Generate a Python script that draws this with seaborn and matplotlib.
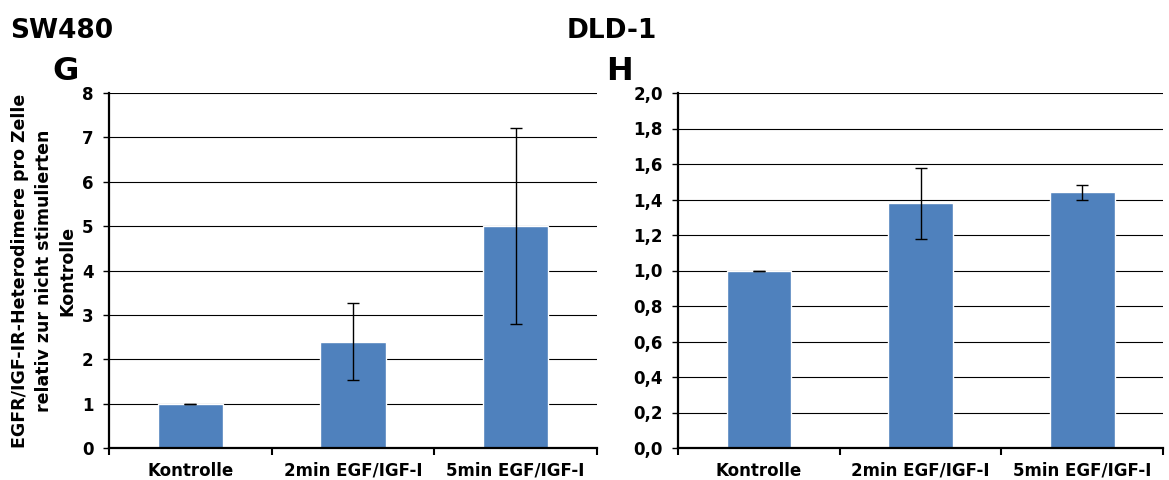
import matplotlib
matplotlib.use("Agg")
import matplotlib.pyplot as plt
import seaborn as sns
import numpy as np

categories = ["Kontrolle", "2min EGF/IGF-I", "5min EGF/IGF-I"]
sw480_values = [1.0, 2.4, 5.0]
sw480_err = [0.0, 0.86, 2.21]
dld1_values = [1.0, 1.38, 1.44]
dld1_err = [0.0, 0.20, 0.04]
sw480_ticks = [0, 1, 2, 3, 4, 5, 6, 7, 8]
sw480_ticklabels = ["0", "1", "2", "3", "4", "5", "6", "7", "8"]
dld1_ticks = [0.0, 0.2, 0.4, 0.6, 0.8, 1.0, 1.2, 1.4, 1.6, 1.8, 2.0]
dld1_ticklabels = ["0,0", "0,2", "0,4", "0,6", "0,8", "1,0", "1,2", "1,4", "1,6", "1,8", "2,0"]
ylabel_text = "EGFR/IGF-IR-Heterodimere pro Zelle\nrelativ zur nicht stimulierten\nKontrolle"

sns.set_theme(style="white")
plt.rcParams["font.family"] = ["DejaVu Sans"]
plt.rcParams["font.weight"] = "bold"

bar_color = "#4F81BD"

fig = plt.figure(figsize=(11.69, 4.8), dpi=100)
W, H = 1169, 480
ax1 = fig.add_axes([109 / W, 1 - 448 / H, (597 - 109) / W, (448 - 93) / H])
ax2 = fig.add_axes([678 / W, 1 - 448 / H, (1163 - 678) / W, (448 - 93) / H])


def draw(ax, values, err, ticks, ticklabels, ymax):
    sns.barplot(x=categories, y=values, color=bar_color, width=0.4,
                saturation=1, ax=ax, zorder=3)
    ax.errorbar(np.arange(len(categories)), values, yerr=err, fmt="none",
                ecolor="black", elinewidth=1, capsize=4.5, capthick=1, zorder=4)
    ax.set_xlim(-0.5, len(categories) - 0.5)
    ax.set_ylim(0, ymax)
    ax.set_yticks(ticks)
    ax.set_yticklabels(ticklabels, fontsize=12, fontweight="bold")
    for t in ticks[1:]:
        ax.axhline(t, color="black", lw=0.8, zorder=1)
    ax.set_xticks(np.arange(len(categories)))
    ax.set_xticklabels(categories, fontsize=12, fontweight="bold")
    ax.set_xticks(np.arange(-0.5, len(categories)), minor=True)
    ax.tick_params(axis="x", which="major", length=0, pad=10, colors="black")
    ax.tick_params(axis="x", which="minor", length=5, width=1.5, direction="out",
                   color="black", bottom=True)
    ax.tick_params(axis="y", length=4, width=1, direction="out", pad=7,
                   left=True, colors="black")
    for s in ["top", "right"]:
        ax.spines[s].set_visible(False)
    for s in ["left", "bottom"]:
        ax.spines[s].set_color("black")
        ax.spines[s].set_linewidth(1.6)
        ax.spines[s].set_zorder(5)
    ax.set_xlabel("")
    ax.grid(False)


draw(ax1, sw480_values, sw480_err, sw480_ticks, sw480_ticklabels, 8)
draw(ax2, dld1_values, dld1_err, dld1_ticks, dld1_ticklabels, 2.0)

ax1.set_ylabel(ylabel_text, fontsize=12.5, fontweight="bold", labelpad=4,
               linespacing=1.4, color="black")

fig.text(10 / W, 1 - 38 / H, "SW480", fontsize=19, fontweight="bold",
         ha="left", va="baseline", color="black")
fig.text(52 / W, 1 - 80 / H, "G", fontsize=23, fontweight="bold",
         ha="left", va="baseline", color="black")
fig.text(567 / W, 1 - 38 / H, "DLD-1", fontsize=19, fontweight="bold",
         ha="left", va="baseline", color="black")
fig.text(606 / W, 1 - 80 / H, "H", fontsize=23, fontweight="bold",
         ha="left", va="baseline", color="black")

fig.savefig("out.png", dpi=100, facecolor="white")
